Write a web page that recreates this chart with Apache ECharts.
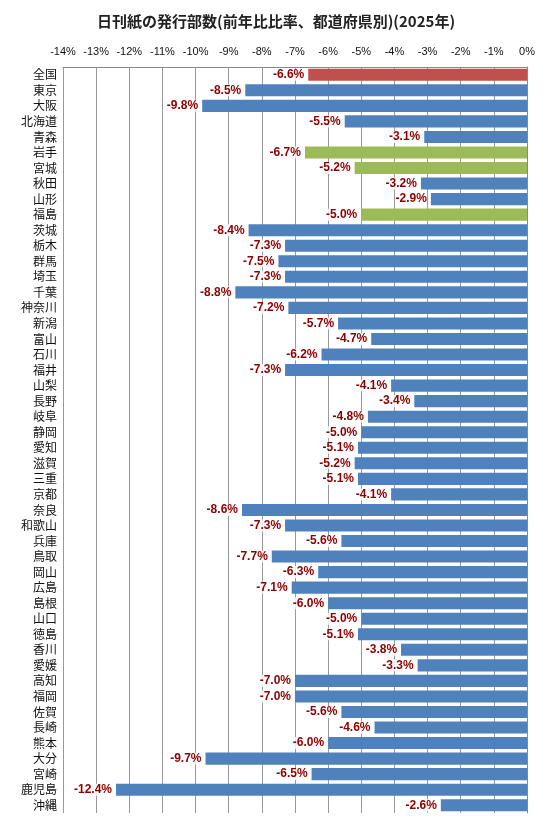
<!DOCTYPE html>
<html><head><meta charset="utf-8">
<script src="https://cdn.jsdelivr.net/npm/echarts@6/dist/echarts.min.js"></script>
<style>html,body{margin:0;padding:0;background:#fff}#c{width:551px;height:834px}</style>
</head><body><div id="c"></div>
<script>
const categories=['全国','東京','大阪','北海道','青森','岩手','宮城','秋田','山形','福島','茨城','栃木','群馬','埼玉','千葉','神奈川','新潟','富山','石川','福井','山梨','長野','岐阜','静岡','愛知','滋賀','三重','京都','奈良','和歌山','兵庫','鳥取','岡山','広島','島根','山口','徳島','香川','愛媛','高知','福岡','佐賀','長崎','熊本','大分','宮崎','鹿児島','沖縄'];
const values=[-6.6,-8.5,-9.8,-5.5,-3.1,-6.7,-5.2,-3.2,-2.9,-5.0,-8.4,-7.3,-7.5,-7.3,-8.8,-7.2,-5.7,-4.7,-6.2,-7.3,-4.1,-3.4,-4.8,-5.0,-5.1,-5.2,-5.1,-4.1,-8.6,-7.3,-5.6,-7.7,-6.3,-7.1,-6.0,-5.0,-5.1,-3.8,-3.3,-7.0,-7.0,-5.6,-4.6,-6.0,-9.7,-6.5,-12.4,-2.6];
const redCats=['全国'];
const greenCats=['岩手','宮城','福島'];
const chart=echarts.init(document.getElementById('c'));
chart.setOption({
 animation:false,
 title:{text:'日刊紙の発行部数(前年比比率、都道府県別)(2025年)',left:92,top:9,textStyle:{fontSize:15,fontWeight:'bold',color:'#222',fontFamily:'Noto Sans CJK JP'}},
 grid:{left:63,right:24,top:67,bottom:21},
 xAxis:{type:'value',position:'top',min:-14,max:0,interval:1,
  axisLabel:{formatter:v=>v+'%',fontSize:11,color:'#111',margin:10},
  splitLine:{lineStyle:{color:'#999'}},axisLine:{show:true,lineStyle:{color:'#888'}},axisTick:{show:false}},
 yAxis:{type:'category',data:categories,inverse:true,
  axisLabel:{interval:0,fontSize:12,color:'#111',margin:6,fontFamily:'Noto Sans CJK JP'},
  axisTick:{show:false},axisLine:{lineStyle:{color:'#888'}}},
 series:[{type:'bar',barWidth:'78%',
  data:values.map((v,i)=>({value:v,itemStyle:{color:redCats.includes(categories[i])?'#c0504d':greenCats.includes(categories[i])?'#9bbb59':'#4f81bd'}})),
  label:{show:true,position:'left',distance:4,formatter:p=>p.value.toFixed(1)+'%',color:'#8b0000',fontWeight:'bold',fontSize:12,backgroundColor:'rgba(255,255,255,0.8)'}}]
});
</script></body></html>
